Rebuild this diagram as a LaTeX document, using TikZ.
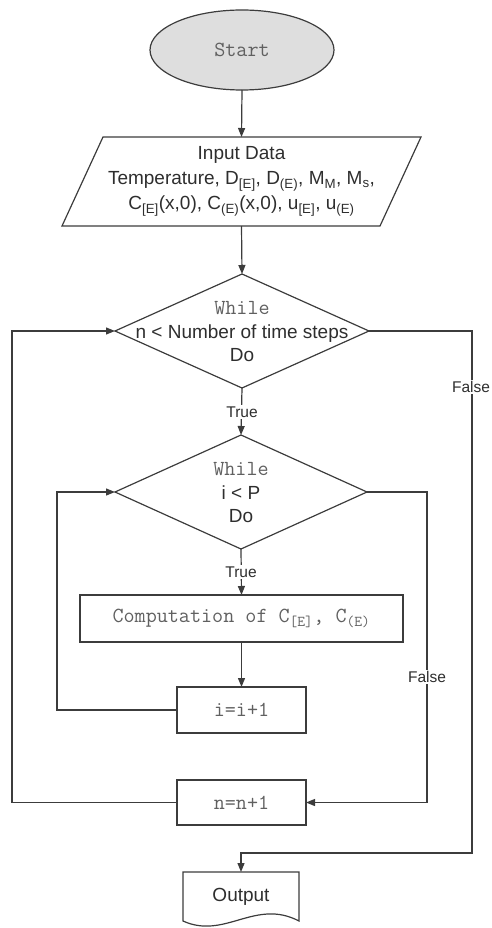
\documentclass[tikz,border=0pt]{standalone}
\usepackage{fontspec}
\setmainfont{Liberation Sans}
\usetikzlibrary{shapes.geometric,arrows.meta,calc}
\definecolor{lncol}{HTML}{3C3C3C}
\definecolor{txcol}{HTML}{2E2E2E}
\definecolor{monocol}{HTML}{606060}
\definecolor{startfill}{HTML}{DEDEDE}
\newcommand{\mytt}[1]{{\fontsize{21.5}{24}\selectfont\ttfamily\color{monocol}#1}}
\tikzset{
  base/.style={draw=lncol, line width=1.2pt, text=txcol, inner sep=0pt, outer sep=0pt},
  textonly/.style={text=txcol, inner sep=0pt, outer sep=0pt, align=center,
    font=\fontsize{19}{24}\selectfont},
  boxnode/.style={base, rectangle, align=center, font=\fontsize{18.5}{22}\selectfont},
  dia/.style={base, diamond},
  conn/.style={draw=lncol, line width=1.2pt},
  arr/.style={conn, -{Triangle[length=9pt,width=7pt]}},
  lbl/.style={fill=white, text=txcol, font=\fontsize{15.5}{18}\selectfont, inner sep=1.5pt}
}
\begin{document}
\begin{tikzpicture}[x=1pt,y=-1pt]
\useasboundingbox (0,0) rectangle (491,928);

% Start
\node[base, ellipse, fill=startfill, minimum width=184, minimum height=80,
      font=\fontsize{18.5}{22}\selectfont] (start) at (242,50) {\mytt{Start}};

% Input parallelogram
\draw[base] (103,137) -- (421,137) -- (380,226) -- (62,226) -- cycle;
\node[textonly, minimum width=318, minimum height=89, font=\fontsize{19}{25}\selectfont] (input) at (241.5,181.5)
  {Input Data\\
   Temperature, D\textsubscript{[E]}, D\textsubscript{(E)}, M\textsubscript{M}, M\textsubscript{s},\\
   C\textsubscript{[E]}(x,0), C\textsubscript{(E)}(x,0), u\textsubscript{[E]}, u\textsubscript{(E)}};

% Outer while
\node[dia, minimum width=254, minimum height=114] (d1) at (242,331) {};
\node[textonly, font=\fontsize{19}{23.5}\selectfont] (d1t) at (242,332) {\mytt{While}\\ n < Number of time steps\\ Do};

% Inner while
\node[dia, minimum width=252, minimum height=114] (d2) at (241,492) {};
\node[textonly, font=\fontsize{19}{23.5}\selectfont] (d2t) at (241,493) {\mytt{While}\\ i < P\\ Do};

% Boxes
\node[boxnode, minimum width=323, minimum height=47] (comp) at (241.5,618.5)
  {\mytt{Computation of C\textsubscript{[E]}, C\textsubscript{(E)}}};
\node[boxnode, minimum width=129, minimum height=46] (inc) at (241.5,710) {\mytt{i=i+1}};
\node[boxnode, minimum width=129, minimum height=45] (nn) at (241.5,802.5) {\mytt{n=n+1}};

% Output document shape
\draw[base] (183,872) -- (299,872) -- (299,921) .. controls (255,898) and (225,940) .. (183,921) -- cycle;
\node[textonly, minimum width=116, minimum height=50] (out) at (241,897) {Output};

% Connector corner points
\coordinate (l2) at (57,710);
\coordinate (r2a) at (427,492);
\coordinate (r2b) at (427,802.5);
\coordinate (l1) at (12,802.5);
\coordinate (r1a) at (472,331);
\coordinate (r1b) at (472,853);
\coordinate (o1) at (241,853);

% Connectors
\draw[arr] (start.south) -- (input.north);
\draw[arr] (input.south) -- (d1.north);
\draw[arr] (d1.south) -- (d2.north);
\draw[arr] (d2.south) -- (comp.north);
\draw[arr] (comp.south) -- (inc.north);
\draw[arr] (inc.west) -- (l2) |- (d2.west);
\draw[arr] (d2.east) -- (r2a) -- (r2b) -- (nn.east);
\draw[arr] (nn.west) -- (l1) |- (d1.west);
\draw[arr] (d1.east) -- (r1a) -- (r1b) -- (o1) -- (out.north);

% Labels
\node[lbl] (t1) at (242,412) {True};
\node[lbl] (t2) at (241,572) {True};
\node[lbl] (f2) at (427,677) {False};
\node[lbl] (f1) at (471,387) {False};
\end{tikzpicture}
\end{document}
